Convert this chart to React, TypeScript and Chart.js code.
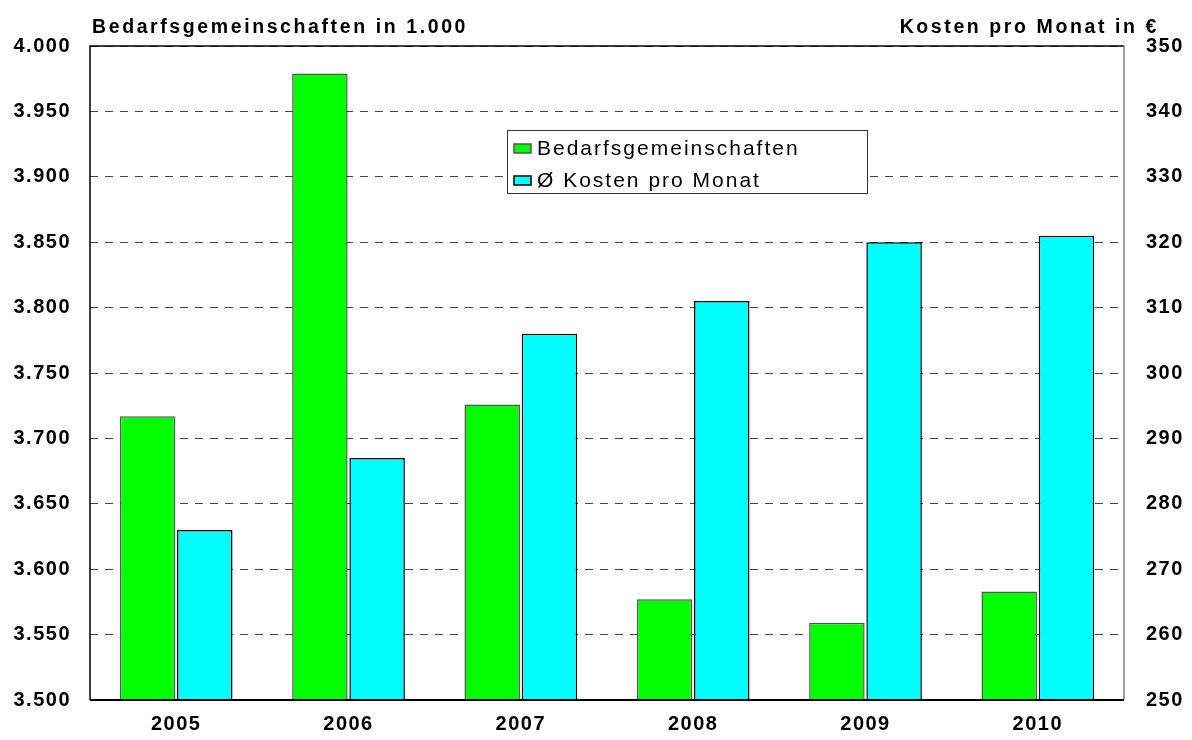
import React, { useEffect, useRef } from 'react';
import { Chart, registerables } from 'chart.js';

Chart.register(...registerables);

const years = ['2005', '2006', '2007', '2008', '2009', '2010'];
const households = [3717, 3979, 3726, 3577, 3559, 3583];
const costs = [276, 287, 306, 311, 320, 321];
const seriesLabels = ['Bedarfsgemeinschaften', 'Ø Kosten pro Monat'];
const leftTitle = 'Bedarfsgemeinschaften in 1.000';
const rightTitle = 'Kosten pro Monat in €';

const fmtThousands = (v: number) => {
  const n = Math.round(v);
  if (n < 1000) return String(n);
  return Math.floor(n / 1000) + '.' + String(n % 1000).padStart(3, '0');
};

const FONT = '"Liberation Sans", Arial, sans-serif';

const decorPlugin = {
  id: 'decor',
  beforeDraw(chart: any) {
    const ctx = chart.ctx;
    ctx.save();
    ctx.fillStyle = '#ffffff';
    ctx.fillRect(0, 0, chart.width, chart.height);
    ctx.restore();
    ctx.letterSpacing = '1.5px';
  },
  afterDraw(chart: any) {
    const ctx = chart.ctx;
    const a = chart.chartArea;
    ctx.save();
    // frame
    ctx.lineWidth = 1.5;
    ctx.strokeStyle = '#000';
    ctx.beginPath();
    ctx.moveTo(a.left, a.bottom);
    ctx.lineTo(a.left, a.top);
    ctx.lineTo(a.right, a.top);
    ctx.stroke();
    ctx.strokeStyle = '#808080';
    ctx.beginPath();
    ctx.moveTo(a.right, a.top);
    ctx.lineTo(a.right, a.bottom);
    ctx.stroke();
    ctx.strokeStyle = '#000';
    ctx.lineWidth = 2;
    ctx.beginPath();
    ctx.moveTo(a.left, a.bottom);
    ctx.lineTo(a.right, a.bottom);
    ctx.stroke();

    // axis titles
    ctx.fillStyle = '#000';
    ctx.font = 'bold 19.5px ' + FONT;
    ctx.letterSpacing = '2.6px';
    ctx.textBaseline = 'alphabetic';
    ctx.textAlign = 'left';
    ctx.fillText(leftTitle, a.left + 2, 33);
    ctx.textAlign = 'right';
    ctx.fillText(rightTitle, 1159, 33);

    // legend
    const lx = 507, ly = 130, lw = 360, lh = 63;
    ctx.fillStyle = '#fff';
    ctx.fillRect(lx, ly, lw, lh);
    ctx.lineWidth = 1;
    ctx.strokeStyle = '#333';
    ctx.strokeRect(lx + 0.5, ly + 0.5, lw, lh);
    ctx.font = '21px ' + FONT;
    ctx.letterSpacing = '2px';
    ctx.textAlign = 'left';
    ctx.textBaseline = 'middle';
    chart.data.datasets.forEach((ds: any, i: number) => {
      const cy = ly + 18 + i * 32;
      ctx.fillStyle = ds.backgroundColor;
      ctx.fillRect(lx + 7, cy - 4, 17, 9);
      ctx.strokeStyle = ds.borderColor;
      ctx.lineWidth = 1.5;
      ctx.strokeRect(lx + 7, cy - 4, 17, 9);
      ctx.fillStyle = '#000';
      ctx.fillText(ds.label, lx + 30, cy + 1);
    });
    ctx.restore();
  },
};

export default function App() {
  const ref = useRef<HTMLCanvasElement | null>(null);
  useEffect(() => {
    if (!ref.current) return;
    const tickFont = { family: FONT, size: 20, weight: 'bold' as const };
    const chart = new Chart(ref.current, {
      type: 'bar',
      data: {
        labels: years,
        datasets: [
          {
            label: seriesLabels[0],
            data: households,
            yAxisID: 'y',
            backgroundColor: '#00ff00',
            borderColor: '#555555',
            borderWidth: 1.5,
            borderSkipped: false,
            categoryPercentage: 0.664,
            barPercentage: 0.97,
          },
          {
            label: seriesLabels[1],
            data: costs,
            yAxisID: 'y1',
            backgroundColor: '#00ffff',
            borderColor: '#000000',
            borderWidth: 1.5,
            borderSkipped: false,
            categoryPercentage: 0.664,
            barPercentage: 0.97,
          },
        ],
      },
      options: {
        animation: false,
        responsive: false,
        maintainAspectRatio: false,
        layout: { padding: { top: 46, left: 0, right: 0, bottom: 0 } },
        plugins: { legend: { display: false }, tooltip: { enabled: false } },
        scales: {
          x: {
            grid: { display: false },
            border: { display: false },
            ticks: {
              color: '#000',
              font: tickFont,
              padding: 4,
              maxRotation: 0,
            },
            afterFit: (s: any) => { s.height = 40; },
          },
          y: {
            position: 'left',
            min: 3500,
            max: 4000,
            grid: { color: '#444', lineWidth: 1, drawTicks: false },
            border: { display: false, dash: [8, 7] },
            ticks: {
              stepSize: 50,
              color: '#000',
              padding: 19,
              font: tickFont,
              callback: (v: any) => fmtThousands(Number(v)),
            },
            afterFit: (s: any) => { s.width = 90; },
          },
          y1: {
            position: 'right',
            min: 250,
            max: 350,
            grid: { drawOnChartArea: false, drawTicks: false },
            border: { display: false },
            ticks: {
              stepSize: 10,
              color: '#000',
              padding: 22,
              font: tickFont,
            },
            afterFit: (s: any) => { s.width = 68; },
          },
        },
      },
      plugins: [decorPlugin],
    });
    return () => chart.destroy();
  }, []);
  return (
    <div style={{ position: 'fixed', left: 0, top: 0, width: 1192, height: 740, background: '#fff' }}>
      <canvas ref={ref} width={1192} height={740} style={{ width: 1192, height: 740, display: 'block' }} />
    </div>
  );
}
